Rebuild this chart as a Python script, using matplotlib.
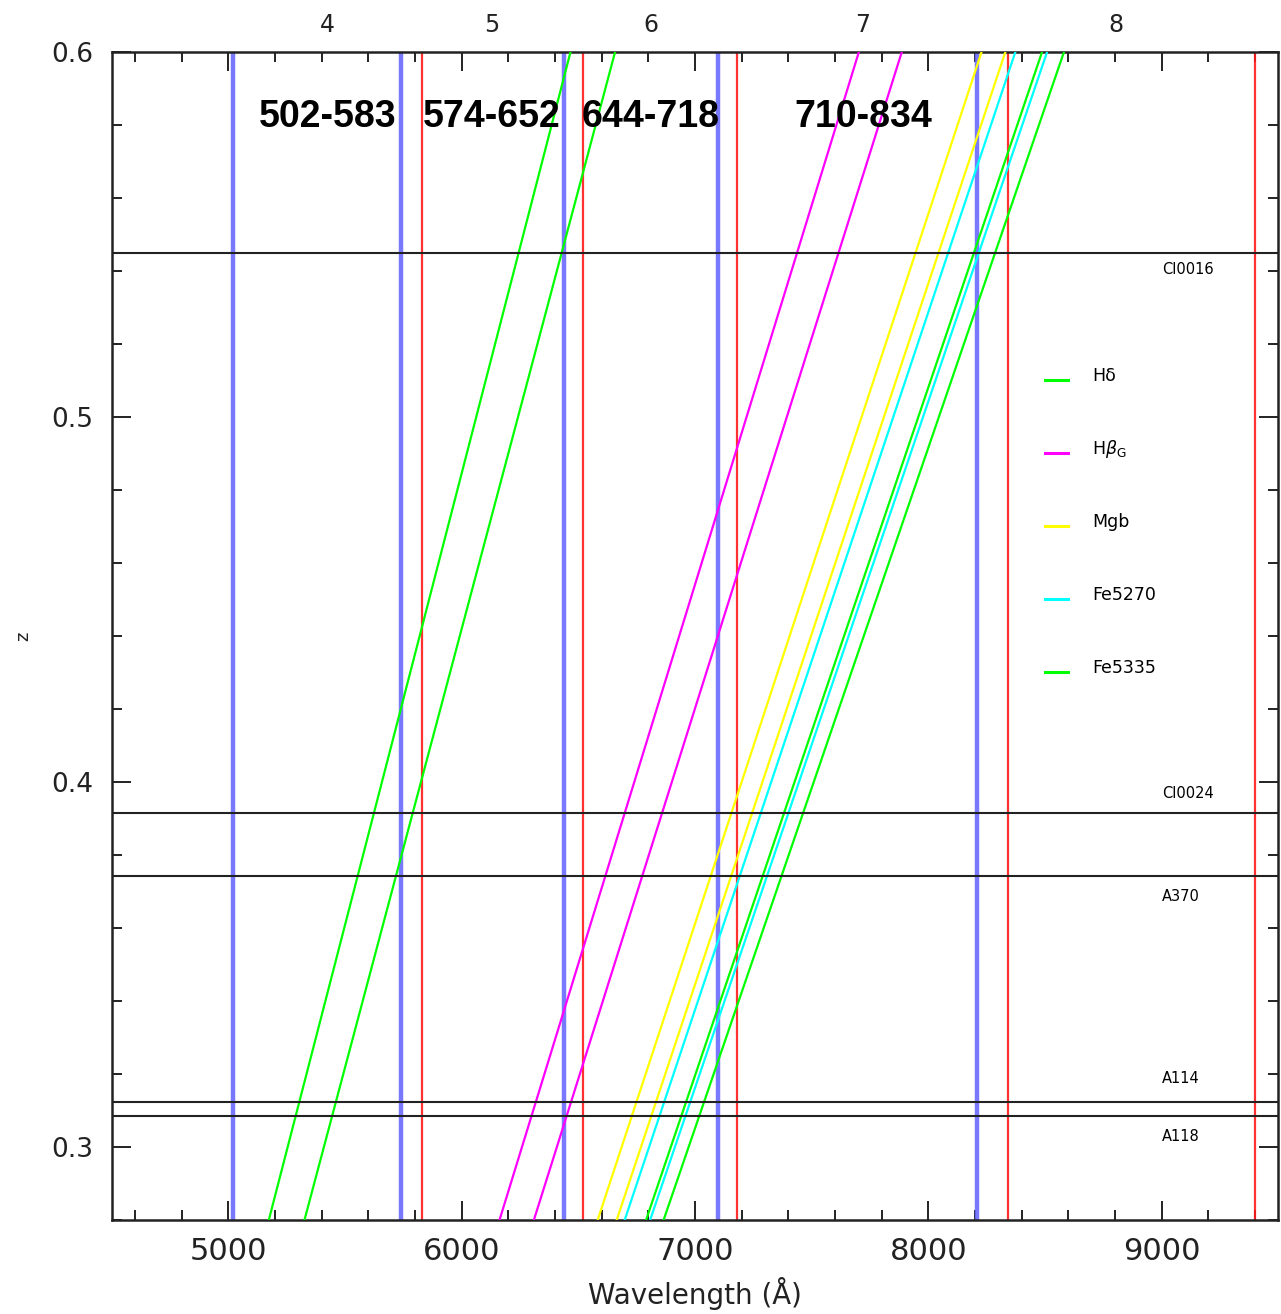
import numpy as np
import matplotlib.pyplot as plt
from matplotlib.ticker import MultipleLocator
import matplotlib.transforms as mtransforms

# spectrograph wavelength settings (Angstrom): start / end of each range
range_start = [5020, 5740, 6440, 7100, 8210]
range_end = [5830, 6520, 7180, 8340, 9400]
range_names = ["502-583", "574-652", "644-718", "710-834"]
range_numbers = ["4", "5", "6", "7", "8"]

# rest-frame band edges of the absorption indices (Angstrom)
index_names = ["H\u03b4", r"H$\beta_{\rm G}$", "Mgb", "Fe5270", "Fe5335"]
index_blue = [4041.6, 4814.0, 5142.625, 5233.15, 5304.625]
index_red = [4161.0, 4929.0, 5206.375, 5318.15, 5363.375]
index_colors = ["#00ff00", "#ff00ff", "#ffff00", "#00ffff", "#00ff00"]

# cluster redshifts
clusters = ["Cl0016", "Cl0024", "A370", "A114", "A118"]
cluster_z = [0.5449, 0.3914, 0.3741, 0.3124, 0.3084]

zlim = np.array([0.28, 0.6])

fig = plt.figure(figsize=(12.81, 13.14), dpi=100)
ax = fig.add_axes([0.0872, 0.0715, 0.9108, 0.8892])

# observed wavelength of each band edge: lambda0 * (1 + z)
for lb, lr, c in zip(index_blue, index_red, index_colors):
    ax.plot(lb * (1 + zlim), zlim, color=c, lw=1.6, zorder=3)
    ax.plot(lr * (1 + zlim), zlim, color=c, lw=1.6, zorder=3)

for s, e in zip(range_start, range_end):
    ax.axvline(s, color="#6a6aff", lw=3.2, alpha=0.9, zorder=2)
    ax.axvline(e, color="#ff1a1a", lw=1.6, alpha=0.9, zorder=2)

# cluster lines, labels alternate below / above the line
offsets = [-0.0046, 0.0053, -0.0056, 0.0063, -0.0055]
for name, z, dz in zip(clusters, cluster_z, offsets):
    ax.axhline(z, color="#222222", lw=1.5, zorder=4)
    ax.text(9000, z + dz, name, fontsize=10.5, va="center", ha="left")

# hand drawn key
key_z = [0.51, 0.49, 0.47, 0.45, 0.43]
for name, c, z in zip(index_names, index_colors, key_z):
    ax.plot([8500, 8600], [z, z], color=c, lw=2.2)
    ax.text(8700, z + 0.0012, name, fontsize=12.5, va="center", ha="left")

for s, e, name in zip(range_start, range_end, range_names):
    ax.text((s + e) / 2.0, 0.5821, name, fontsize=27, fontweight="bold",
            family="Liberation Sans", ha="center", va="center", zorder=5)

trans = mtransforms.blended_transform_factory(ax.transData, ax.transAxes)
for s, e, n in zip(range_start, range_end, range_numbers):
    ax.text((s + e) / 2.0, 1.0229, n, fontsize=17, ha="center", va="center",
            transform=trans, color="#222222")

ax.set_xlim(4500, 9500)
ax.set_ylim(zlim[0], zlim[1])
ax.xaxis.set_major_locator(MultipleLocator(1000))
ax.xaxis.set_minor_locator(MultipleLocator(200))
ax.yaxis.set_major_locator(MultipleLocator(0.1))
ax.yaxis.set_minor_locator(MultipleLocator(0.02))
ax.tick_params(which="both", direction="in", top=True, right=True,
               width=1.4, color="#222222")
ax.tick_params(which="major", length=14)
ax.tick_params(which="minor", length=7)
ax.tick_params(axis="x", labelsize=22, pad=12, labelcolor="#222222")
ax.tick_params(axis="y", labelsize=19, pad=13, labelcolor="#222222")
for sp in ax.spines.values():
    sp.set_linewidth(1.8)
    sp.set_color("#222222")

ax.set_xlabel("Wavelength (\u00c5)", fontsize=20, color="#222222", labelpad=8)
ax.set_ylabel("z", fontsize=13, color="#222222", labelpad=14)

plt.savefig("out.png", dpi=100)
